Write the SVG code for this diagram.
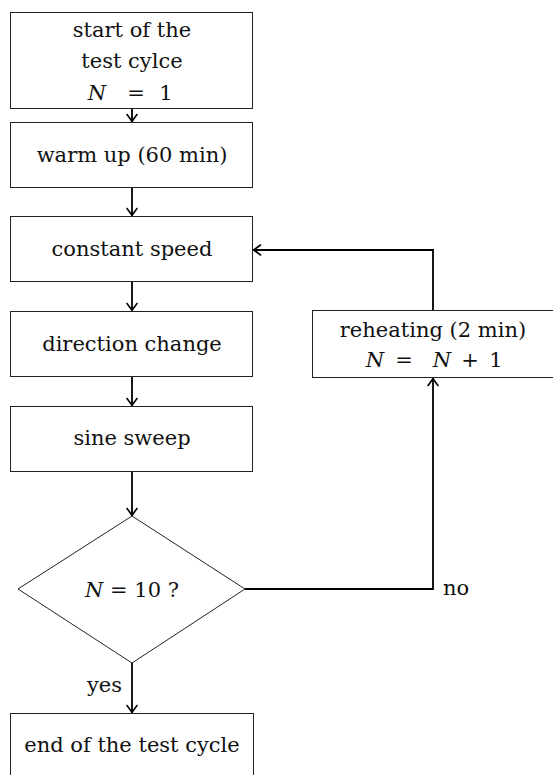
<svg xmlns="http://www.w3.org/2000/svg" width="553" height="775" viewBox="0 0 553 775">
<style>
.box{fill:#fff;stroke:#222;stroke-width:1}
text{font-family:'DejaVu Serif',serif;font-size:21px;fill:#111}
.m{text-anchor:middle}
.i{font-style:italic}
.c{fill:none;stroke:#000;stroke-width:1.8}
</style>
<defs>
<marker id="arr" markerUnits="userSpaceOnUse" markerWidth="14" markerHeight="14" refX="0" refY="0" viewBox="-8 -7 10 14" orient="auto">
<path d="M-7,-5 Q-2,-1.2 0,0 Q-2,1.2 -7,5" fill="none" stroke="#000" stroke-width="1.6" stroke-linecap="round"/>
</marker>
</defs>
<rect width="553" height="775" fill="#fff"/>
<g id="connectors">
<line class="c" x1="132" y1="108" x2="132" y2="121.5" marker-end="url(#arr)"/>
<line class="c" x1="132" y1="188" x2="132" y2="215.5" marker-end="url(#arr)"/>
<line class="c" x1="132" y1="282" x2="132" y2="310.5" marker-end="url(#arr)"/>
<line class="c" x1="132" y1="377" x2="132" y2="405.5" marker-end="url(#arr)"/>
<line class="c" x1="132" y1="471" x2="132" y2="515.5" marker-end="url(#arr)"/>
<line class="c" x1="132" y1="663" x2="132" y2="712.5" marker-end="url(#arr)"/>
<polyline class="c" points="245,589 433,589 433,378.5" marker-end="url(#arr)"/>
<polyline class="c" points="433,310 433,250 253.5,250" marker-end="url(#arr)"/>
<text x="122" y="692" text-anchor="end">yes</text>
<text x="443" y="595">no</text>
</g>
<g id="start">
<rect class="box" x="10.5" y="12.5" width="242" height="96"/>
<text class="m" x="132" y="37">start of the</text>
<text class="m" x="132" y="68">test cylce</text>
<text class="m i" x="97" y="100">N</text>
<text class="m" x="136" y="100">=</text>
<text class="m" x="166" y="100">1</text>
</g>
<g id="warmup">
<rect class="box" x="10.5" y="122.5" width="242" height="65"/>
<text class="m" x="132" y="162">warm up (60 min)</text>
</g>
<g id="constant">
<rect class="box" x="10.5" y="216.5" width="242" height="65"/>
<text class="m" x="132" y="256">constant speed</text>
</g>
<g id="direction">
<rect class="box" x="10.5" y="311.5" width="242" height="65"/>
<text class="m" x="132" y="351">direction change</text>
</g>
<g id="sine">
<rect class="box" x="10.5" y="406.5" width="242" height="65"/>
<text class="m" x="132" y="445">sine sweep</text>
</g>
<g id="reheating">
<rect class="box" x="312.5" y="310.5" width="242" height="67"/>
<text class="m" x="433" y="337">reheating (2 min)</text>
<text class="m i" x="375" y="367">N</text>
<text class="m" x="404" y="367">=</text>
<text class="m i" x="442" y="367">N</text>
<text class="m" x="470" y="367">+</text>
<text class="m" x="496" y="367">1</text>
</g>
<g id="decision">
<polygon class="box" points="132,516 245,589 132,663 18,589"/>
<text class="m" x="132" y="597"><tspan class="i">N</tspan> = 10 ?</text>
</g>
<g id="end">
<rect class="box" x="10.5" y="713.5" width="243" height="80"/>
<text class="m" x="132" y="752">end of the test cycle</text>
</g>
</svg>
